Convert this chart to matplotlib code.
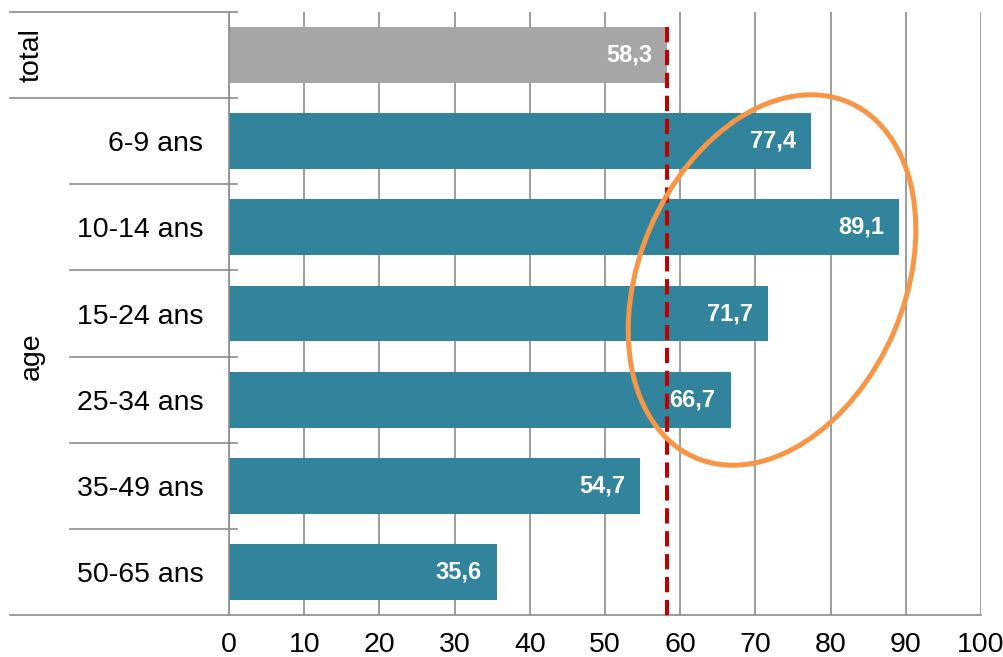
import matplotlib
matplotlib.use("Agg")
import matplotlib.pyplot as plt
from matplotlib.patches import Ellipse
from matplotlib.transforms import blended_transform_factory

categories = ["total", "6-9 ans", "10-14 ans", "15-24 ans", "25-34 ans", "35-49 ans", "50-65 ans"]
values = [58.3, 77.4, 89.1, 71.7, 66.7, 54.7, 35.6]
value_labels = ["58,3", "77,4", "89,1", "71,7", "66,7", "54,7", "35,6"]
tick_labels = ["", "6-9 ans", "10-14 ans", "15-24 ans", "25-34 ans", "35-49 ans", "50-65 ans"]
group_labels = ["total", "age"]
reference_value = 58.3
x_ticks = [0, 10, 20, 30, 40, 50, 60, 70, 80, 90, 100]

plt.rcParams['font.family'] = ['Liberation Sans', 'DejaVu Sans']
plt.rcParams['lines.scale_dashes'] = False

FS = 20.5
W, H = 1004, 657
fig = plt.figure(figsize=(W / 100, H / 100), dpi=100)
L, R, T, B = 229, 981, 12, 615
ax = fig.add_axes([L / W, 1 - B / H, (R - L) / W, (B - T) / H])

TEAL = "#31849B"
GREY_BAR = "#A6A6A6"
LINE = "#8C8C8C"

colors = [GREY_BAR] + [TEAL] * (len(categories) - 1)
ypos = list(range(len(categories)))
ax.barh(ypos, values, height=0.65, color=colors, zorder=2)

ax.set_xlim(0, 100)
ax.set_ylim(6.5, -0.5)
ax.set_xticks(x_ticks)
ax.set_xticklabels([str(t) for t in x_ticks], fontsize=FS)
ax.set_yticks(ypos)
ax.set_yticklabels(tick_labels, fontsize=FS)
ax.tick_params(axis='x', length=0, pad=12)
ax.tick_params(axis='y', length=0, pad=18.5)

ax.xaxis.grid(True, color=LINE, linewidth=1.2, zorder=0)
ax.set_axisbelow(True)
for s in ["top", "right", "bottom"]:
    ax.spines[s].set_visible(False)
ax.spines["left"].set_color(LINE)
ax.spines["left"].set_linewidth(1.2)
ax.spines["left"].set_zorder(3)

# bar value labels
for y, v, t in zip(ypos, values, value_labels):
    ax.annotate(t, xy=(v, y), xytext=(-15, 0), textcoords="offset pixels",
                ha="right", va="center", color="white", fontsize=17, fontweight="bold", zorder=5)

# reference dashed line
ax.plot([reference_value, reference_value], [-0.326, 6.56], color="#C00000", linewidth=2.9,
        dashes=(11, 5.5), clip_on=False, zorder=4)

# separator lines on the left
bt = blended_transform_factory(ax.transAxes, ax.transData)
x_far = (10 - L) / (R - L)
x_mid = (70 - L) / (R - L)
x_end = (237 - L) / (R - L)
for yb in [-0.5, 0.5]:
    ax.plot([x_far, x_end], [yb, yb], color=LINE, linewidth=1.2, transform=bt, clip_on=False, zorder=3)
for yb in [1.5, 2.5, 3.5, 4.5, 5.5]:
    ax.plot([x_mid, x_end], [yb, yb], color=LINE, linewidth=1.2, transform=bt, clip_on=False, zorder=3)
ax.plot([x_far, 1.0], [6.5, 6.5], color=LINE, linewidth=1.2, transform=bt, clip_on=False, zorder=3)

# group labels
gx = (32 - L) / (R - L)
ax.text(gx, 0, group_labels[0], rotation=90, ha="center", va="center", fontsize=FS, transform=bt)
ax.text(gx, 3.5, group_labels[1], rotation=90, ha="center", va="center", fontsize=FS, transform=bt)

# highlight ellipse (figure inches)
ell = Ellipse((7.72, (H - 280) / 100), width=3.87, height=2.65, angle=66.6,
              fill=False, edgecolor="#F79646", linewidth=3.6, transform=fig.dpi_scale_trans,
              zorder=6)
fig.add_artist(ell)

fig.savefig("out.png", dpi=100)
